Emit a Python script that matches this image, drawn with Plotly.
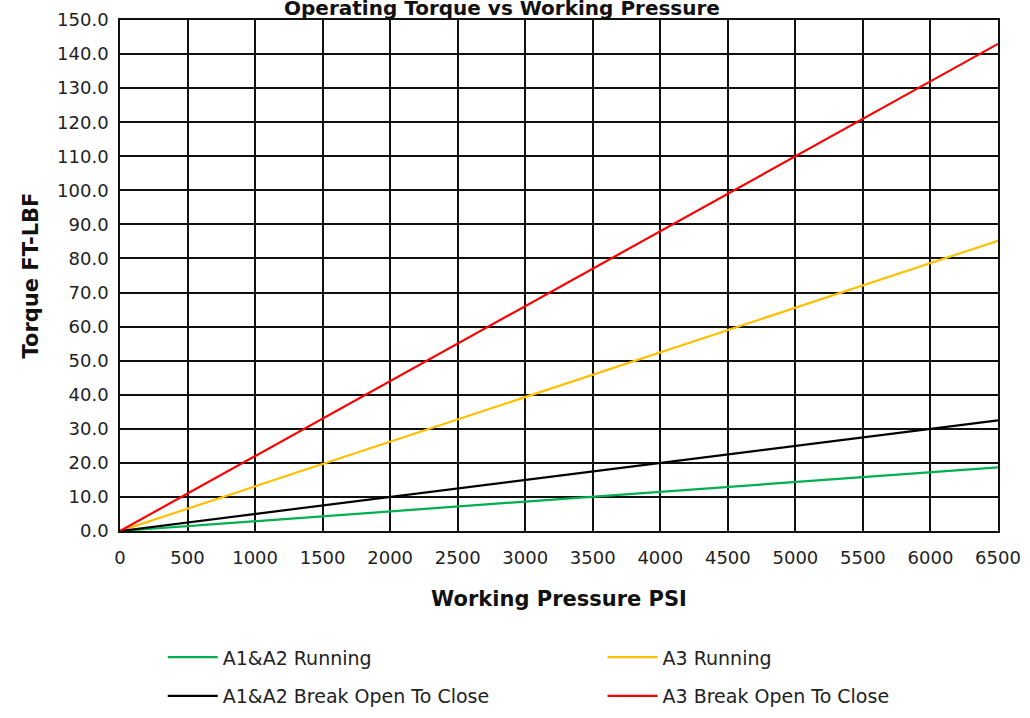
import plotly.graph_objects as go

# Working pressure (PSI) sample points
pressure = [0, 1000, 2000, 3000, 4000, 5000, 6000, 6500]

# Operating torque (FT-LBF) for each valve condition
a12_running = [0.0, 2.9, 5.8, 8.6, 11.5, 14.4, 17.3, 18.7]
a3_running = [0.0, 13.1, 26.2, 39.3, 52.4, 65.5, 78.6, 85.2]
a12_break = [0.0, 5.0, 10.0, 15.0, 20.0, 25.0, 30.0, 32.5]
a3_break = [0.0, 22.0, 44.0, 66.0, 88.0, 110.0, 132.0, 143.0]

series_names = ["A1&A2 Running", "A3 Running", "A1&A2 Break Open To Close", "A3 Break Open To Close"]
series_values = [a12_running, a3_running, a12_break, a3_break]
series_colors = ["#00B050", "#FFC000", "#000000", "#FF0000"]
# two legend columns: left column and right column
series_legend = ["legend", "legend2", "legend", "legend2"]

x_ticks = list(range(0, 6501, 500))
y_ticks = [i * 10 for i in range(16)]

FONT = "DejaVu Sans"

fig = go.Figure()
for name, vals, col, lg in zip(series_names, series_values, series_colors, series_legend):
    fig.add_trace(go.Scatter(x=pressure, y=vals, mode="lines", name=name, legend=lg,
                             legendgroup=name,
                             line=dict(color=col, width=2.2)))

legend_common = dict(orientation="v", xanchor="left", yref="container", y=0.111, yanchor="top",
                     font=dict(family=FONT, size=19, color="#222"),
                     tracegroupgap=11, itemwidth=50, bgcolor="rgba(0,0,0,0)")

fig.update_layout(
    width=1030, height=718,
    margin=dict(l=120, r=32, t=20, b=187, autoexpand=False),
    paper_bgcolor="white", plot_bgcolor="white",
    font=dict(family=FONT, size=18, color="#222"),
    showlegend=True,
    legend=dict(xref="container", x=0.158, **legend_common),
    legend2=dict(xref="container", x=0.585, **legend_common),
    annotations=[
        dict(text="<b>Operating Torque vs Working Pressure</b>", xref="paper", yref="paper",
             x=0.435, y=1.0, yshift=-2, xanchor="center", yanchor="bottom", showarrow=False,
             font=dict(family=FONT, size=20, color="#111")),
        dict(text="<b>Torque FT-LBF</b>", xref="paper", yref="paper",
             x=-0.1025, y=0.5, xanchor="center", yanchor="middle", textangle=-90, showarrow=False,
             font=dict(family=FONT, size=21, color="#111")),
    ],
)
fig.update_xaxes(range=[0, 6500], tickvals=x_ticks, ticktext=[str(v) for v in x_ticks],
                 showgrid=True, gridcolor="#111", gridwidth=1.5,
                 showline=True, linecolor="#111", linewidth=1.5, mirror=True,
                 zeroline=False, ticks="", ticklabelstandoff=10,
                 title=dict(text="<b>Working Pressure PSI</b>", font=dict(family=FONT, size=21, color="#111"),
                            standoff=24))
fig.update_yaxes(range=[0, 150], tickvals=y_ticks, ticktext=[f"{v:.1f}" for v in y_ticks],
                 showgrid=True, gridcolor="#111", gridwidth=1.5,
                 showline=True, linecolor="#111", linewidth=1.5, mirror=True,
                 zeroline=False, ticks="", ticklabelstandoff=6)

fig.write_html("out.html")
